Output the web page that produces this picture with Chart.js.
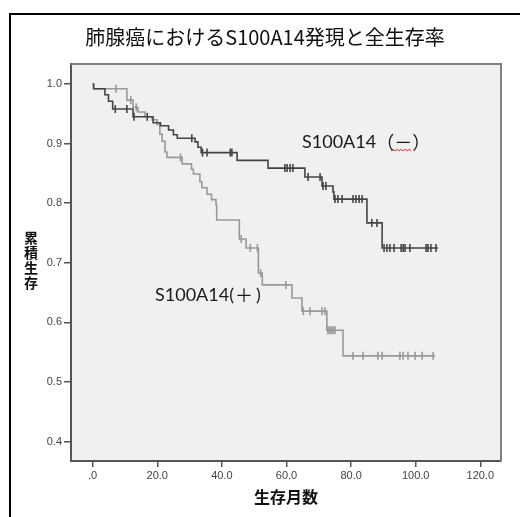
<!DOCTYPE html>
<html><head><meta charset="utf-8">
<script src="https://cdn.jsdelivr.net/npm/chart.js@4"></script>
<style>
html,body{margin:0;padding:0;background:#fff;}
#wrap{position:relative;width:520px;height:517px;overflow:hidden;}
#frame{position:absolute;left:9px;top:13px;width:600px;height:600px;border:2px solid #000;pointer-events:none;box-sizing:border-box;}
canvas{position:absolute;left:0;top:0;}
</style></head>
<body><div id="wrap"><canvas id="c" width="520" height="517"></canvas><div id="frame"></div></div>
<script>
const titleText = '肺腺癌におけるS100A14発現と全生存率';
const xTitle = '生存月数';
const yTitle = '累積生存';
const negLabelA = 'S100A14';
const negLabelB = '（－）';
const posLabelA = 'S100A14(';
const posLabelB = '＋';
const posLabelC = ')';
const xTickValues = [0, 20, 40, 60, 80, 100, 120];
const xTickLabels = ['.0', '20.0', '40.0', '60.0', '80.0', '100.0', '120.0'];
const yTickValues = [0.4, 0.5, 0.6, 0.7, 0.8, 0.9, 1.0];
const yTickLabels = ['0.4', '0.5', '0.6', '0.7', '0.8', '0.9', '1.0'];

// S100A14 (-) : step times (months) and survival after each step
const negTimes = [0, 0.3, 3.8, 4.9, 6.2, 12.5, 18.7, 21, 23.5, 25, 26.2, 31.7, 32.6, 33.6, 44.7, 54.3, 65.7, 71, 74.4, 74.7, 84.9, 89.6, 106.9];
const negSurv  = [1.0, 0.992, 0.982, 0.971, 0.958, 0.945, 0.935, 0.93, 0.923, 0.915, 0.909, 0.903, 0.894, 0.885, 0.872, 0.859, 0.844, 0.829, 0.819, 0.807, 0.767, 0.725, 0.725];
const negCensored = [7.0, 10.6, 12.8, 16.9, 30.7, 34.0, 35.4, 42.6, 43.1, 59.5, 60.2, 61.1, 62.0, 66.7, 70.4, 71.3, 72.2, 75.0, 75.9, 77.2, 80.6, 81.5, 82.5, 83.4, 86.4, 88.0, 90.2, 91.1, 92.0, 93.3, 95.5, 96.1, 96.7, 98.2, 103.2, 103.8, 104.7, 106.3];

// S100A14 (+)
const posTimes = [0, 0.3, 10.6, 12.5, 14, 16.2, 18.4, 19.9, 20.8, 21.5, 22.4, 23, 27.7, 30.6, 31.2, 33.2, 33.8, 35.4, 36.8, 38.2, 38.4, 45.4, 47.5, 51.3, 52.5, 61.7, 64.8, 72.5, 77.5, 106];
const posSurv  = [1.0, 0.992, 0.973, 0.961, 0.953, 0.945, 0.94, 0.932, 0.916, 0.904, 0.886, 0.877, 0.866, 0.857, 0.849, 0.836, 0.826, 0.815, 0.806, 0.797, 0.772, 0.74, 0.725, 0.683, 0.663, 0.641, 0.619, 0.587, 0.544, 0.544];
const posCensored = [7.2, 11.8, 13.5, 27.2, 46.0, 48.8, 51.0, 52.0, 59.8, 65.2, 67.3, 71.0, 71.9, 72.8, 73.3, 73.8, 74.4, 75.0, 80.6, 83.7, 88.3, 89.6, 95.1, 96.1, 97.6, 99.8, 102.0, 105.4];

function survAt(times, surv, t) {
  let s = surv[0];
  for (let i = 0; i < times.length; i++) { if (times[i] <= t) s = surv[i]; }
  return s;
}
const toPts = (T, S) => T.map((t, i) => ({x: t, y: S[i]}));
const censPts = (C, T, S) => C.map(t => ({x: t, y: survAt(T, S, t)}));

const DARK = '#444444', LIGHT = '#999999';
const LATIN = '18px Lato';
const CJK = '18px "Noto Sans CJK JP"';

const deco = {
  id: 'deco',
  beforeDraw(chart) {
    const {ctx, chartArea: a} = chart;
    ctx.save();
    ctx.fillStyle = '#f0f0f0';
    ctx.fillRect(a.left, a.top, a.right - a.left, a.bottom - a.top);
    ctx.restore();
  },
  afterDraw(chart) {
    const {ctx, chartArea: a, scales} = chart;
    ctx.save();
    ctx.strokeStyle = '#808080';
    ctx.lineWidth = 2;
    ctx.beginPath();
    ctx.moveTo(a.left, a.top); ctx.lineTo(a.right, a.top); ctx.lineTo(a.right, a.bottom);
    ctx.stroke();
    // y title stacked
    ctx.fillStyle = '#111';
    ctx.font = 'bold 14px "Noto Sans CJK JP"';
    ctx.textAlign = 'center'; ctx.textBaseline = 'middle';
    [...yTitle].forEach((ch, i) => ctx.fillText(ch, 31, 238 + i * 15));
    // series labels
    ctx.textAlign = 'left';
    ctx.fillStyle = '#1a1a1a';
    const nx = scales.x.getPixelForValue(64.8), ny = scales.y.getPixelForValue(0.903);
    ctx.font = LATIN;
    ctx.fillText(negLabelA, nx, ny);
    const wA = ctx.measureText(negLabelA).width;
    ctx.font = CJK;
    const bx = nx + wA;
    ctx.fillText(negLabelB, bx, ny);
    const wP = ctx.measureText('（').width, wM = ctx.measureText('－').width;
    const px = scales.x.getPixelForValue(19.3), py = scales.y.getPixelForValue(0.646);
    ctx.font = LATIN;
    ctx.fillText(posLabelA, px, py);
    let w = ctx.measureText(posLabelA).width;
    ctx.font = CJK;
    ctx.fillText(posLabelB, px + w + 1, py);
    w += ctx.measureText(posLabelB).width + 4;
    ctx.font = LATIN;
    ctx.fillText(posLabelC, px + w, py);
    // spell-check squiggle under the minus sign
    ctx.strokeStyle = '#e03030'; ctx.lineWidth = 1;
    ctx.beginPath();
    let x = bx + wP - 3, up = true;
    ctx.moveTo(x, ny + 9);
    while (x < bx + wP + wM - 2) { x += 2; ctx.lineTo(x, ny + (up ? 7.5 : 9)); up = !up; }
    ctx.stroke();
    ctx.restore();
  }
};

new Chart(document.getElementById('c'), {
  type: 'line',
  data: {
    datasets: [
      {data: toPts(negTimes, negSurv), stepped: 'before', borderColor: DARK, borderWidth: 1.6, pointRadius: 0, fill: false, order: 2},
      {data: censPts(negCensored, negTimes, negSurv), showLine: false, pointStyle: 'line', rotation: 90, pointRadius: 4, borderColor: DARK, borderWidth: 1.6, order: 1},
      {data: toPts(posTimes, posSurv), stepped: 'before', borderColor: LIGHT, borderWidth: 1.6, pointRadius: 0, fill: false, order: 4},
      {data: censPts(posCensored, posTimes, posSurv), showLine: false, pointStyle: 'line', rotation: 90, pointRadius: 4, borderColor: LIGHT, borderWidth: 1.6, order: 3}
    ]
  },
  options: {
    responsive: false, animation: false, devicePixelRatio: 1,
    layout: {padding: {left: 10, right: 0, top: 0, bottom: 0}},
    plugins: {
      legend: {display: false}, tooltip: {enabled: false},
      title: {display: true, text: titleText, color: '#111', font: {family: '"Noto Sans CJK JP"', size: 20, weight: 'normal'}, padding: {top: 25, bottom: 15}}
    },
    scales: {
      x: {
        type: 'linear', min: -6.7, max: 126.4,
        afterBuildTicks: s => { s.ticks = xTickValues.map(v => ({value: v})); },
        afterFit: s => { s.height = 56; },
        ticks: {callback: v => xTickLabels[xTickValues.indexOf(v)], color: '#444', font: {family: '"Liberation Sans"', size: 11}, padding: 2, maxRotation: 0, autoSkip: false},
        grid: {drawOnChartArea: false, drawTicks: true, tickLength: 6, color: '#555', lineWidth: 1.5},
        border: {display: true, color: '#555', width: 2},
        title: {display: true, text: xTitle, color: '#111', font: {family: '"Noto Sans CJK JP"', size: 16, weight: 'bold'}, padding: {top: 0, bottom: 10}}
      },
      y: {
        type: 'linear', min: 0.3676, max: 1.0336,
        afterBuildTicks: s => { s.ticks = yTickValues.map(v => ({value: v})); },
        afterFit: s => { s.width = 61; },
        ticks: {callback: v => yTickLabels[yTickValues.indexOf(v)], color: '#444', font: {family: '"Liberation Sans"', size: 11}, padding: 2, autoSkip: false},
        grid: {drawOnChartArea: false, drawTicks: true, tickLength: 7, color: '#555', lineWidth: 1.5},
        border: {display: true, color: '#555', width: 2}
      },
      yR: {
        type: 'linear', position: 'right', min: 0.3676, max: 1.0336, display: true,
        ticks: {display: false}, grid: {display: false}, border: {display: false},
        afterFit: s => { s.width = 19; }
      }
    }
  },
  plugins: [deco]
});
</script>
</body></html>
